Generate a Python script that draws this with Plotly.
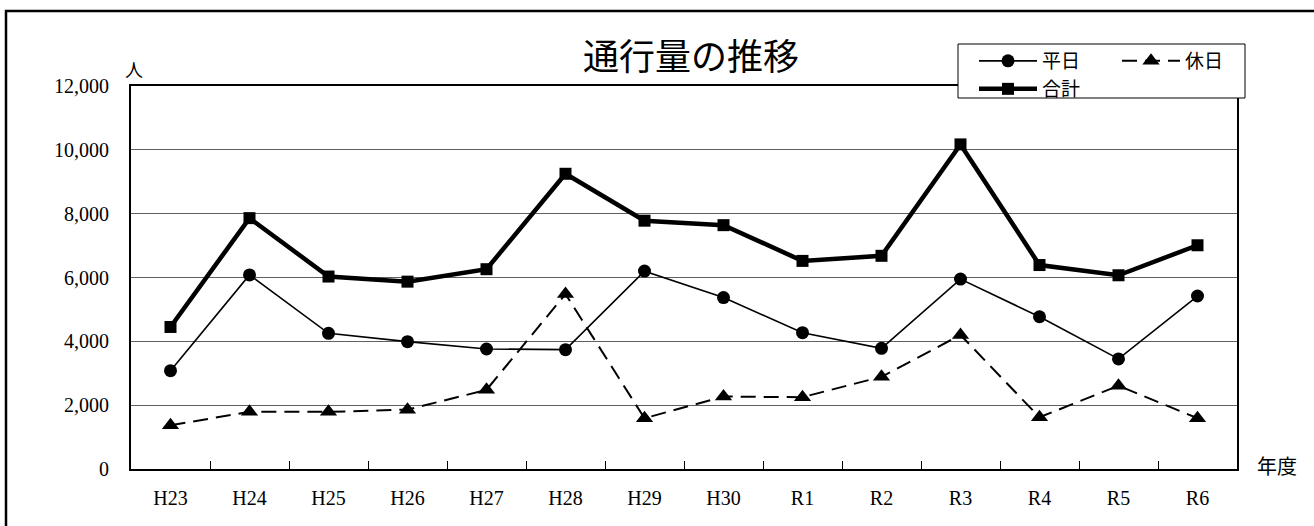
import plotly.graph_objects as go

categories = ["H23", "H24", "H25", "H26", "H27", "H28", "H29", "H30", "R1", "R2", "R3", "R4", "R5", "R6"]
weekday = [3080, 6080, 4250, 3990, 3760, 3740, 6200, 5370, 4270, 3780, 5950, 4770, 3450, 5420]
holiday = [1370, 1790, 1790, 1860, 2480, 5480, 1590, 2270, 2250, 2890, 4200, 1620, 2610, 1590]
total = [4450, 7860, 6030, 5870, 6260, 9250, 7780, 7640, 6520, 6680, 10170, 6390, 6070, 7010]
y_ticks = [0, 2000, 4000, 6000, 8000, 10000, 12000]

W, H = 1314, 526
L, R, T, B = 131, 1237, 86, 469
PW, PH = R - L, B - T


def px(x):
    return (x - L) / PW


def py(y):
    return (B - y) / PH


FONT = "Liberation Serif, Noto Sans CJK JP, serif"

fig = go.Figure()
fig.add_trace(go.Scatter(x=categories, y=weekday, name="平日", mode="lines+markers",
                         line=dict(color="black", width=1.6),
                         marker=dict(symbol="circle", size=13, color="black"),
                         legend="legend"))
fig.add_trace(go.Scatter(x=categories, y=holiday, name="休日", mode="lines+markers",
                         line=dict(color="black", width=2, dash="15px,8px"),
                         marker=dict(symbol="triangle-up", size=15, color="black"),
                         legend="legend"))
fig.add_trace(go.Scatter(x=categories, y=total, name="合計", mode="lines+markers",
                         line=dict(color="black", width=4.5),
                         marker=dict(symbol="square", size=12, color="black"),
                         legend="legend2"))

fig.update_layout(
    width=W, height=H,
    margin=dict(l=L, r=W - R, t=T, b=H - B, pad=0, autoexpand=False),
    paper_bgcolor="white", plot_bgcolor="white",
    font=dict(family=FONT, color="black", size=19),
    title=dict(text="通行量の推移", x=691 / W, xanchor="center", y=1 - 57 / H, yanchor="middle",
               xref="container", yref="container", font=dict(size=36, family=FONT, color="black")),
    showlegend=True,
    legend=dict(orientation="h", x=px(974), y=py(42), xanchor="left", yanchor="top",
                entrywidth=70, entrywidthmode="pixels", itemwidth=58, bgcolor="rgba(0,0,0,0)",
                borderwidth=0, font=dict(size=19, family=FONT)),
    legend2=dict(orientation="h", x=px(974), y=py(70), xanchor="left", yanchor="top",
                 itemwidth=58, bgcolor="rgba(0,0,0,0)", borderwidth=0,
                 font=dict(size=19, family=FONT)),
    xaxis=dict(type="category", showgrid=False, showline=True, linecolor="black", linewidth=2,
               mirror=True, ticks="inside", tickson="boundaries", ticklen=8, tickcolor="black",
               tickwidth=1, tickfont=dict(size=20, family=FONT), ticklabelstandoff=10,
               range=[-0.5, len(categories) - 0.5], fixedrange=True, automargin=False),
    yaxis=dict(range=[0, 12000], tickvals=y_ticks, tickformat=",d", showgrid=True,
               gridcolor="#606060", gridwidth=1, showline=True, linecolor="black", linewidth=2,
               mirror=True, ticks="", zeroline=False, tickfont=dict(size=20, family=FONT),
               ticklabelstandoff=16, fixedrange=True, automargin=False),
    shapes=[
        # legend box
        dict(type="rect", xref="paper", yref="paper", x0=px(958), x1=px(1245), y0=py(98), y1=py(44),
             fillcolor="white", line=dict(color="black", width=1), layer="above"),
        # outer chart border
        dict(type="rect", xref="paper", yref="paper", x0=px(6), x1=px(1400), y0=py(600), y1=py(11),
             fillcolor="rgba(0,0,0,0)", line=dict(color="black", width=2.5), layer="above"),
    ],
    annotations=[
        dict(text="人", xref="paper", yref="paper", x=px(134), y=py(71), showarrow=False,
             xanchor="center", yanchor="middle", font=dict(size=18, family=FONT)),
        dict(text="年度", xref="paper", yref="paper", x=px(1277), y=py(467), showarrow=False,
             xanchor="center", yanchor="middle", font=dict(size=20, family=FONT)),
    ],
)

fig.write_html("out.html", config={"displayModeBar": False},
               post_script="document.body.style.margin='0';document.body.style.overflow='hidden';")
